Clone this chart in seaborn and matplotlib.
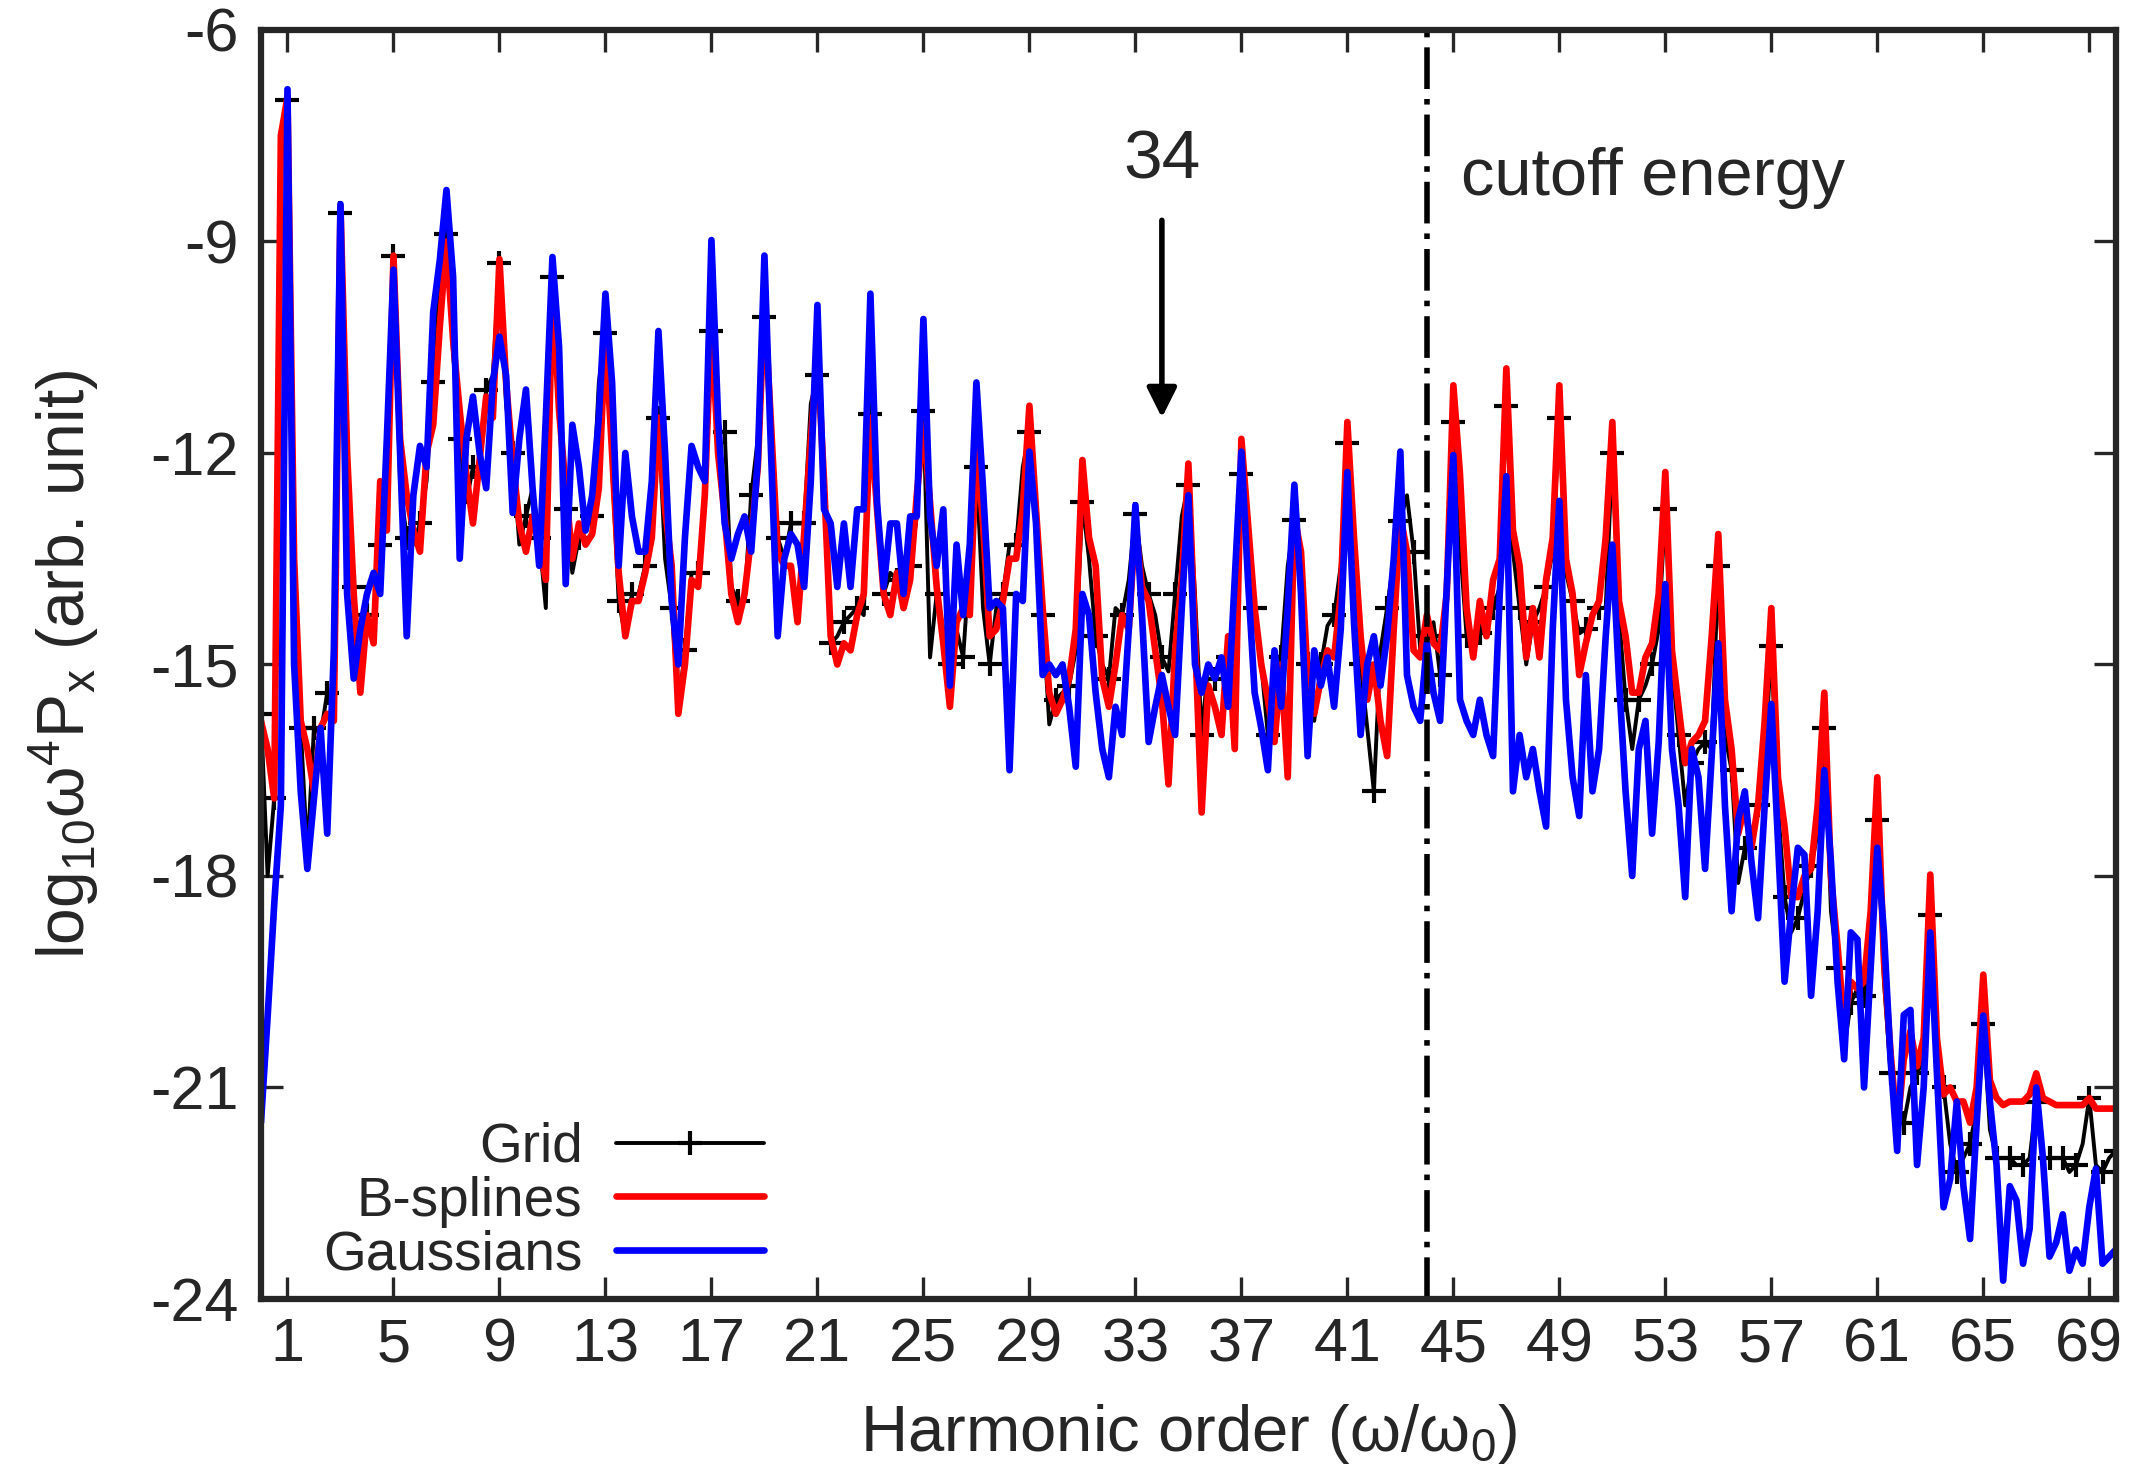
import numpy as np
import pandas as pd
import seaborn as sns
import matplotlib
matplotlib.use("Agg")
import matplotlib.pyplot as plt

# harmonic order, one sample every quarter harmonic (0 .. 70)
order = np.arange(0, 70.01, 0.25)

# log10 w^4 Px, four values per harmonic (n, n+.25, n+.5, n+.75)
grid = [
    -15.7, -18.0, -16.9, -7.6,    -7.0, -15.1, -15.9, -17.7,
    -15.9, -16.0, -15.4, -15.6,   -8.6, -13.5, -13.9, -15.2,
    -14.3, -14.5, -13.3, -12.5,   -9.2, -12.45, -13.2, -13.3,
    -13.0, -12.4, -11.0, -9.5,    -8.9, -10.6, -11.8, -12.7,
    -12.2, -12.2, -11.1, -10.9,   -9.3, -11.33, -12.0, -13.3,
    -12.9, -12.5, -13.2, -14.2,   -9.5, -11.45, -12.8, -13.7,
    -13.2, -13.0, -12.9, -11.0,   -10.3, -12.2, -14.1, -14.6,
    -14.0, -14.0, -13.6, -12.9,   -11.5, -13.5, -14.2, -15.6,
    -14.8, -13.7, -13.7, -12.6,   -10.27, -11.7, -11.7, -13.9,
    -14.1, -14.1, -12.6, -11.8,   -10.07, -11.7, -13.2, -13.5,
    -13.0, -13.0, -13.0, -11.3,   -10.9, -12.45, -14.7, -14.6,
    -14.4, -14.3, -14.2, -14.3,   -11.45, -12.8, -14.0, -13.7,
    -13.8, -13.9, -13.6, -12.9,   -11.4, -14.9, -14.0, -14.5,
    -15.0, -14.5, -14.9, -13.5,   -12.2, -14.2, -15.0, -14.2,
    -14.0, -13.3, -13.3, -12.2,   -11.7, -12.9, -14.3, -15.85,
    -15.5, -15.4, -15.3, -14.8,   -12.7, -13.5, -14.6, -15.0,
    -15.2, -14.2, -14.3, -13.8,   -12.86, -13.6, -14.0, -14.3,
    -14.9, -15.1, -14.0, -12.9,   -12.45, -14.0, -16.0, -15.0,
    -15.2, -15.0, -14.9, -14.2,   -12.3, -13.4, -14.2, -15.0,
    -16.0, -15.3, -14.9, -13.6,   -12.95, -13.6, -15.0, -15.8,
    -15.0, -14.45, -14.3, -13.6,  -11.86, -13.5, -15.0, -15.9,
    -16.8, -14.8, -14.2, -13.5,   -12.96, -12.6, -13.4, -14.8,
    -14.6, -14.4, -15.15, -14.0,  -11.56, -13.3, -14.6, -14.6,
    -14.56, -14.5, -14.2, -13.9,  -11.33, -13.4, -14.2, -15.0,
    -14.4, -14.2, -13.9, -13.4,   -11.5, -13.7, -14.1, -14.56,
    -14.5, -14.3, -14.2, -14.2,   -12.0, -14.3, -15.5, -16.2,
    -15.5, -15.3, -15.0, -14.5,   -12.8, -15.0, -16.0, -17.0,
    -16.4, -16.2, -16.1, -16.2,   -13.6, -16.0, -16.5, -18.1,
    -17.6, -17.5, -17.0, -16.4,   -14.74, -17.0, -18.3, -18.8,
    -18.6, -18.2, -17.86, -17.4,  -15.9, -18.5, -19.3, -20.45,
    -19.8, -19.6, -19.7, -19.0,   -17.2, -19.5, -20.8, -21.5,
    -21.5, -21.0, -20.8, -20.6,   -18.56, -20.6, -21.0, -21.8,
    -22.2, -22.0, -21.8, -21.3,   -20.1, -21.6, -22.0, -22.0,
    -22.0, -22.1, -22.1, -22.0,   -21.2, -22.0, -22.0, -22.0,
    -22.0, -22.2, -22.1, -21.8,   -21.15, -22.1, -22.2, -22.0,
    -21.9,
]

bsplines = [
    -15.8, -16.2, -16.9, -7.5,    -6.95, -13.5, -15.8, -16.2,
    -16.8, -15.9, -15.7, -15.8,   -8.5, -12.0, -14.0, -15.4,
    -14.3, -14.7, -12.4, -13.1,   -9.2, -11.8, -12.6, -13.1,
    -13.4, -12.0, -11.6, -10.2,   -9.0, -10.4, -11.4, -12.3,
    -13.0, -12.1, -11.2, -11.5,   -9.25, -11.0, -12.1, -13.0,
    -13.4, -12.9, -13.3, -13.8,   -9.6, -11.4, -12.5, -13.5,
    -13.0, -13.3, -13.15, -12.5,  -10.3, -12.0, -13.7, -14.6,
    -14.1, -14.1, -13.7, -13.2,   -11.5, -12.8, -13.6, -15.7,
    -15.0, -13.8, -13.9, -12.6,   -10.1, -12.0, -12.9, -14.0,
    -14.4, -14.0, -13.2, -12.2,   -9.86, -11.6, -13.4, -13.6,
    -13.6, -14.4, -13.15, -11.8,  -10.6, -12.4, -14.6, -15.0,
    -14.7, -14.8, -14.3, -14.0,   -11.5, -12.8, -14.0, -14.3,
    -13.7, -14.2, -13.8, -12.6,   -11.6, -12.7, -13.9, -14.7,
    -15.6, -14.4, -14.2, -14.3,   -11.9, -13.0, -14.6, -14.5,
    -14.1, -13.5, -13.5, -12.8,   -11.33, -12.8, -14.2, -15.4,
    -15.7, -15.5, -15.2, -14.5,   -12.1, -13.2, -13.6, -15.2,
    -15.6, -15.0, -14.3, -14.5,   -13.0, -13.9, -14.1, -14.8,
    -15.5, -16.7, -14.8, -13.8,   -12.15, -14.6, -17.1, -15.3,
    -15.6, -16.0, -14.6, -16.2,   -11.8, -13.0, -14.2, -15.0,
    -15.5, -16.1, -15.0, -16.6,   -12.9, -13.4, -15.2, -15.7,
    -15.2, -14.8, -14.9, -14.0,   -11.56, -13.2, -14.6, -15.5,
    -15.0, -15.8, -16.3, -14.5,   -12.9, -13.4, -14.8, -14.9,
    -14.3, -14.7, -14.8, -14.0,   -11.04, -12.3, -14.2, -14.9,
    -14.1, -14.6, -13.8, -13.5,   -10.8, -13.1, -13.6, -14.9,
    -14.2, -14.9, -13.8, -13.2,   -11.04, -13.5, -14.0, -15.15,
    -14.7, -14.3, -14.1, -13.2,   -11.56, -14.1, -14.6, -15.4,
    -15.4, -14.9, -14.7, -14.0,   -12.27, -14.8, -15.6, -16.4,
    -16.1, -16.0, -15.8, -14.6,   -13.15, -15.5, -16.2, -17.4,
    -17.0, -17.6, -17.0, -15.8,   -14.2, -16.6, -17.3, -18.3,
    -18.3, -18.0, -17.9, -17.0,   -15.4, -18.0, -19.0, -20.1,
    -19.5, -19.6, -19.5, -18.5,   -16.6, -19.2, -20.5, -21.6,
    -20.6, -20.2, -20.7, -20.3,   -17.98, -20.3, -21.1, -21.0,
    -21.2, -21.2, -21.5, -21.0,   -19.4, -20.9, -21.15, -21.25,
    -21.2, -21.2, -21.2, -21.1,   -20.8, -21.15, -21.2, -21.25,
    -21.25, -21.25, -21.25, -21.25, -21.15, -21.3, -21.3, -21.3,
    -21.3,
]

gaussians = [
    -21.5, -20.0, -18.4, -17.0,   -6.84, -15.0, -16.8, -17.9,
    -16.9, -15.9, -17.4, -14.8,   -8.47, -14.0, -15.2, -14.5,
    -14.0, -13.7, -14.0, -11.8,   -9.4, -12.0, -14.6, -12.6,
    -11.9, -12.2, -10.0, -9.26,   -8.27, -9.5, -13.5, -11.8,
    -11.2, -12.0, -12.5, -11.0,   -10.35, -10.9, -12.85, -11.8,
    -11.1, -12.5, -13.6, -11.5,   -9.22, -10.5, -13.86, -11.6,
    -12.2, -13.1, -12.6, -11.5,   -9.74, -11.0, -13.6, -12.0,
    -12.9, -13.4, -13.4, -12.4,   -10.27, -12.0, -14.1, -15.0,
    -13.2, -11.9, -12.2, -12.4,   -8.98, -11.5, -13.0, -13.5,
    -13.15, -12.9, -13.4, -12.1,  -9.2, -12.0, -14.6, -13.5,
    -13.15, -13.3, -13.9, -12.4,  -9.9, -12.8, -13.0, -13.9,
    -13.0, -13.9, -12.8, -12.8,   -9.74, -12.7, -13.9, -13.0,
    -13.0, -14.0, -12.9, -12.9,   -10.1, -12.9, -13.6, -12.8,
    -15.3, -13.3, -14.3, -13.3,   -11.0, -12.5, -14.2, -14.1,
    -14.2, -16.5, -14.0, -14.1,   -11.98, -13.0, -15.15, -15.0,
    -15.15, -15.0, -15.6, -16.45, -14.0, -14.3, -15.4, -16.2,
    -16.6, -15.6, -16.0, -14.5,   -12.74, -14.3, -16.1, -15.6,
    -15.15, -15.6, -16.0, -14.2,  -12.6, -15.0, -15.4, -15.0,
    -15.2, -14.9, -15.6, -13.8,   -11.98, -13.8, -15.4, -15.9,
    -16.5, -14.8, -15.6, -14.2,   -12.45, -14.0, -16.3, -14.8,
    -15.3, -14.9, -15.6, -14.5,   -12.27, -14.4, -16.0, -15.0,
    -14.6, -15.3, -14.6, -13.5,   -11.98, -15.15, -15.6, -15.8,
    -14.7, -15.4, -15.8, -13.9,   -12.03, -15.5, -15.8, -16.0,
    -15.5, -16.0, -16.3, -14.0,   -12.33, -16.8, -16.0, -16.6,
    -16.2, -16.8, -17.3, -14.5,   -12.68, -15.5, -16.6, -17.15,
    -15.15, -16.8, -16.2, -14.6,  -13.3, -15.2, -16.8, -18.0,
    -16.2, -15.8, -17.4, -16.1,   -13.86, -16.2, -17.0, -18.3,
    -16.2, -16.6, -17.9, -16.3,   -14.7, -17.0, -18.5, -17.2,
    -16.8, -17.8, -18.6, -17.0,   -15.56, -17.5, -19.5, -18.5,
    -17.6, -17.7, -19.7, -18.5,   -16.5, -17.8, -19.5, -20.6,
    -18.8, -18.9, -21.0, -19.3,   -17.6, -18.8, -20.6, -21.9,
    -19.97, -19.9, -22.1, -21.0,  -18.8, -20.8, -22.7, -22.3,
    -21.2, -22.4, -23.15, -21.5,  -19.98, -21.2, -22.1, -23.74,
    -22.4, -22.6, -23.5, -23.0,   -21.0, -22.0, -23.4, -23.2,
    -22.8, -23.6, -23.3, -23.5,   -22.7, -22.15, -23.5, -23.4,
    -23.3,
]

xticks = list(range(1, 70, 4))
yticks = list(range(-24, -5, 3))
cutoff = 44
marked = 34

df = pd.DataFrame({"order": order, "Grid": grid,
                   "B-splines": bsplines, "Gaussians": gaussians})

sns.set_style("ticks")
plt.rcParams["font.family"] = ["Liberation Sans", "DejaVu Sans"]
plt.rcParams["axes.unicode_minus"] = False
plt.rcParams["mathtext.fontset"] = "custom"
plt.rcParams["mathtext.rm"] = "Liberation Sans"
plt.rcParams["mathtext.it"] = "Liberation Sans"
plt.rcParams["mathtext.bf"] = "Liberation Sans:bold"

fig = plt.figure(figsize=(21.48, 14.84), dpi=100)
ax = fig.add_axes([0.1215, 0.1247, 0.8635, 0.8551])

sns.lineplot(data=df, x="order", y="Grid", ax=ax, color="black", lw=2.8,
             marker="+", markersize=17, mew=3.0, mec="black", markevery=2,
             estimator=None, sort=False, label="Grid")
sns.lineplot(data=df, x="order", y="B-splines", ax=ax, color="#ff0000", lw=4.8,
             estimator=None, sort=False, label="B-splines")
sns.lineplot(data=df, x="order", y="Gaussians", ax=ax, color="#0000ff", lw=4.8,
             estimator=None, sort=False, label="Gaussians")

# cutoff energy line
ax.axvline(cutoff, color="black", lw=4.0, ls=(0, (7.5, 1.8, 1.0, 1.8)))
ax.text(cutoff + 1.3, -8.1, "cutoff energy", fontsize=48, ha="left", va="center")

# arrow at harmonic 34
ax.annotate("", xy=(marked, -11.5), xytext=(marked, -8.7),
            arrowprops=dict(arrowstyle="-|>", color="black", lw=4.0,
                            mutation_scale=45, shrinkA=0, shrinkB=0))
ax.text(marked, -7.85, str(marked), fontsize=50, ha="center", va="center")

ax.set_xlim(0, 70)
ax.set_ylim(-24, -6)
ax.set_xticks(xticks)
ax.set_yticks(yticks)
ax.tick_params(direction="in", length=16, width=2.4, top=True, right=True,
               labelsize=44)
ax.tick_params(axis="x", pad=13)
ax.tick_params(axis="y", pad=16)
for sp in ax.spines.values():
    sp.set_linewidth(4.5)

ax.set_xlabel(r"Harmonic order (ω/ω$_0$)", fontsize=47)
ax.set_ylabel(r"log$_{10}$ω$^4$P$_\mathrm{x}$ (arb. unit)", fontsize=47.5)
ax.xaxis.set_label_coords(0.5, -0.081)
ax.yaxis.set_label_coords(-0.086, 0.5)

ax.legend(loc="lower right", bbox_to_anchor=(0.271, 0.014), frameon=False,
          fontsize=39.5, markerfirst=False, handlelength=2.7, handletextpad=0.6,
          labelspacing=0.03, borderpad=0, borderaxespad=0, numpoints=1)

fig.savefig("out.png", dpi=100)
